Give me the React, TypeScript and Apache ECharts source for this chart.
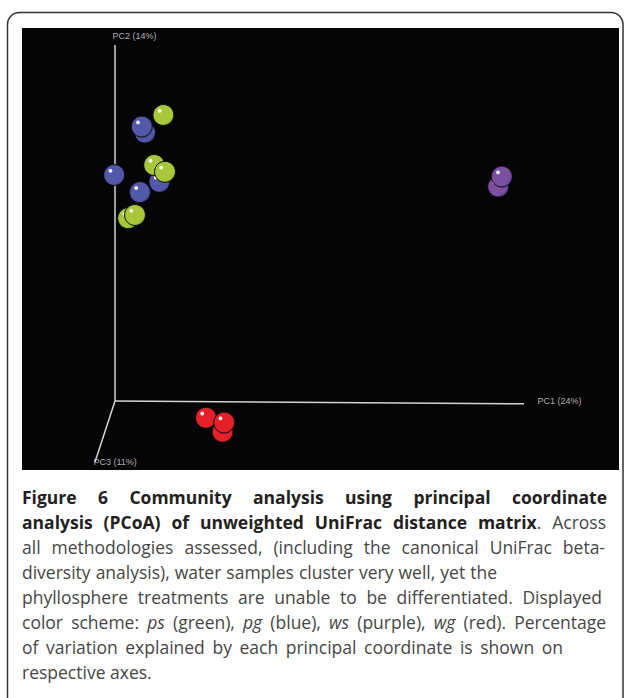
import React, { useEffect, useRef } from "react";
import * as echarts from "echarts";

// Sample coordinates in the projected PCoA view (PC1 across, PC2 up; PC3 recedes)
const psPC1 = [9.8, 12.5, 12.1, 3.3, 5.0];
const psPC2 = [59.0, 57.3, 71.5, 45.7, 46.5];
const pgPC1 = [7.5, 6.7, -0.2, 11.1, 6.25];
const pgPC2 = [67.1, 68.6, 56.5, 54.8, 52.2];
const wsPC1 = [95.8, 96.7];
const wsPC2 = [53.6, 56.1];
const wgPC1 = [26.9, 22.75, 27.3];
const wgPC2 = [-7.7, -4.2, -5.4];

const axisNames = ["PC1 (24%)", "PC2 (14%)", "PC3 (11%)"];
const axisEndX = [102.25, 0, -5];
const axisEndY = [-0.7, 89, -15.25];

const captionLines: [string, string][][] = [
  [["Figure 6 Community analysis using principal coordinate", "b"]],
  [["analysis (PCoA) of unweighted UniFrac distance matrix", "b"], [". Across", "n"]],
  [["all methodologies assessed, (including the canonical UniFrac beta-", "n"]],
  [["diversity analysis), water samples cluster very well, yet the", "n"]],
  [["phyllosphere treatments are unable to be differentiated. Displayed", "n"]],
  [
    ["color scheme: ", "n"], ["ps", "i"], [" (green), ", "n"], ["pg", "i"], [" (blue), ", "n"],
    ["ws", "i"], [" (purple), ", "n"], ["wg", "i"], [" (red). Percentage", "n"],
  ],
  [["of variation explained by each principal coordinate is shown on", "n"]],
  [["respective axes.", "n"]],
];
const captionLineEnds: (number | null)[] = [607, 606, 605, 497, 602, 606, 563, null];

const FONT = '"Open Sans", sans-serif';
const FS = 17.5;
const segStyles: Record<string, any> = {
  b: { fontWeight: "bold", fontStyle: "normal", fill: "#231f20" },
  n: { fontWeight: "normal", fontStyle: "normal", fill: "#464646" },
  i: { fontWeight: "normal", fontStyle: "italic", fill: "#464646" },
};

function sphere(base: string, dark: string) {
  return {
    type: "radial",
    x: 0.32,
    y: 0.3,
    r: 0.8,
    colorStops: [
      { offset: 0, color: "#ffffff" },
      { offset: 0.08, color: "#ffffff" },
      { offset: 0.14, color: base },
      { offset: 0.8, color: base },
      { offset: 1, color: dark },
    ],
  };
}

function buildCaption() {
  const canvas = document.createElement("canvas");
  const ctx = canvas.getContext("2d")!;
  const measure = (t: string, s: string) => {
    const st = segStyles[s];
    ctx.font = `${st.fontStyle} ${st.fontWeight === "bold" ? 700 : 400} ${FS}px ${FONT}`;
    return ctx.measureText(t).width;
  };
  const elements: any[] = [];
  captionLines.forEach((line, li) => {
    const words: [string, string][][] = [];
    let cur: [string, string][] = [];
    line.forEach(([text, s]) => {
      const parts = text.split(" ");
      parts.forEach((p, pi) => {
        if (pi > 0) {
          if (cur.length) words.push(cur);
          cur = [];
        }
        if (p.length) cur.push([p, s]);
      });
    });
    if (cur.length) words.push(cur);
    let W = 0;
    words.forEach((w) => w.forEach(([t, s]) => (W += measure(t, s))));
    const end = captionLineEnds[li];
    const gap =
      end == null || words.length < 2 ? measure(" ", "n") : (end - 22 - W) / (words.length - 1);
    const text = words
      .map((w) => w.map(([t, s]) => `{${s}|${t}}`).join(""))
      .join("{g| }");
    const rich: any = {};
    Object.keys(segStyles).forEach((k) => {
      rich[k] = { ...segStyles[k], fontSize: FS, fontFamily: FONT };
    });
    rich.g = { width: Math.max(gap, 2), fontSize: FS, fontFamily: FONT, fill: "#444" };
    elements.push({
      type: "text",
      x: 22,
      y: 497 + li * 25,
      silent: true,
      style: {
        text,
        rich,
        fontSize: FS,
        fontFamily: FONT,
        align: "left",
        verticalAlign: "middle",
      },
    });
  });
  return elements;
}

export default function App() {
  const ref = useRef<HTMLDivElement>(null);
  useEffect(() => {
    const chart = echarts.init(ref.current!, null, { renderer: "svg" });
    const pts = (xs: number[], ys: number[]) => xs.map((x, i) => [x, ys[i]]);
    const group = (name: string, xs: number[], ys: number[], base: string, dark: string) => ({
      name,
      type: "scatter",
      data: pts(xs, ys),
      symbolSize: 21,
      z: 5,
      silent: true,
      itemStyle: { color: sphere(base, dark), borderColor: "#0c0c0c", borderWidth: 1, opacity: 1 },
    });
    const axisLines = axisNames.map((n, i) => ({
      name: n,
      type: "line",
      data: [
        [0, 0],
        [axisEndX[i], axisEndY[i]],
      ],
      symbol: "none",
      silent: true,
      z: 2,
      lineStyle: { color: "#d4d4d4", width: 1.5 },
    }));
    const labelOffsets = [
      [14, -2],
      [-2, -9],
      [-1, 0],
    ];
    const axisLabels = {
      type: "scatter",
      symbolSize: 1,
      silent: true,
      z: 3,
      itemStyle: { color: "rgba(0,0,0,0)" },
      data: axisNames.map((n, i) => ({
        value: [axisEndX[i], axisEndY[i]],
        label: {
          show: true,
          formatter: n,
          position: labelOffsets[i],
          align: "left",
          verticalAlign: "middle",
          color: "#dddddd",
          fontSize: 9,
          fontFamily: '"Liberation Sans", Arial, sans-serif',
        },
      })),
    };
    chart.setOption({
      animation: false,
      grid: {
        left: 22,
        top: 28,
        width: 597,
        height: 442,
        show: true,
        backgroundColor: "#050505",
        borderWidth: 0,
      },
      xAxis: { type: "value", min: -23.25, max: 126, show: false },
      yAxis: { type: "value", min: -17.25, max: 93.25, show: false },
      series: [
        ...axisLines,
        axisLabels,
        group("pg", pgPC1, pgPC2, "#5358a8", "#3a3e80"),
        group("ps", psPC1, psPC2, "#a6c83a", "#7d9a22"),
        group("ws", wsPC1, wsPC2, "#7a4ea0", "#583478"),
        group("wg", wgPC1, wgPC2, "#e4212a", "#a8141a"),
      ],
      graphic: {
        elements: [
          {
            type: "rect",
            silent: true,
            shape: { x: 7.5, y: 12.5, width: 615.5, height: 720, r: 12 },
            style: { fill: "none", stroke: "#333333", lineWidth: 1.5 },
          },
          ...buildCaption(),
        ],
      },
    });
    return () => chart.dispose();
  }, []);
  return (
    <div style={{ position: "fixed", left: 0, top: 0, width: 625, height: 698, background: "#fff" }}>
      <div ref={ref} style={{ width: 625, height: 698 }} />
    </div>
  );
}
